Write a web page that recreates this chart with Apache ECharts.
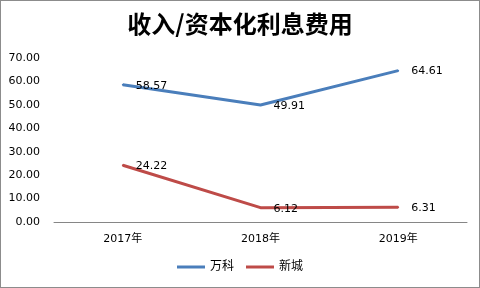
<!DOCTYPE html>
<html><head><meta charset="utf-8">
<script src="https://cdn.jsdelivr.net/npm/echarts@6/dist/echarts.min.js"></script>
<style>html,body{margin:0;padding:0;background:#fff}#c{width:478px;height:286px;border:1px solid #8c8c8c}</style>
</head><body><div id="c"></div>
<script>
const categories = ['2017年', '2018年', '2019年'];
const vanke = [58.57, 49.91, 64.61];
const xincheng = [24.22, 6.12, 6.31];
const seriesNames = ['万科', '新城'];
const chart = echarts.init(document.getElementById('c'));
const font = 'DejaVu Sans, "Noto Sans CJK SC", sans-serif';
const lbl = {show: true, position: 'right', distance: 12, color: '#000', fontSize: 11, fontFamily: font,
  offset: [0, 1], formatter: p => Number(p.value).toFixed(2)};
function line(name, data, color) {
  return {name, type: 'line', data, showSymbol: true, symbol: 'circle', symbolSize: 2,
    lineStyle: {width: 3, color}, itemStyle: {color}, label: lbl,
    emphasis: {disabled: true}};
}
chart.setOption({
  animation: false,
  title: {text: '收入/资本化利息费用', left: 'center', top: 6, textStyle: {fontFamily: '"Noto Sans CJK SC"', fontWeight: 'bold', fontSize: 24, color: '#000'}},
  grid: {left: 53, right: 12, top: 57, bottom: 65, containLabel: false},
  legend: {bottom: 9, left: 'center', itemWidth: 28, itemHeight: 3, itemGap: 12, icon: 'rect',
    textStyle: {fontFamily: font, fontSize: 12, color: '#000'}, data: seriesNames},
  xAxis: {type: 'category', data: categories, boundaryGap: true,
    axisLine: {lineStyle: {color: '#868686'}}, axisTick: {show: false},
    axisLabel: {color: '#000', fontSize: 11, fontFamily: font, margin: 12}},
  yAxis: {type: 'value', min: 0, max: 70, interval: 10, splitLine: {show: false},
    axisLine: {show: false}, axisTick: {show: false},
    axisLabel: {color: '#000', fontSize: 11, fontFamily: font, margin: 14, formatter: v => v.toFixed(2)}},
  series: [line(seriesNames[0], vanke, '#4a7ebb'), line(seriesNames[1], xincheng, '#be4b48')]
});
</script></body></html>
